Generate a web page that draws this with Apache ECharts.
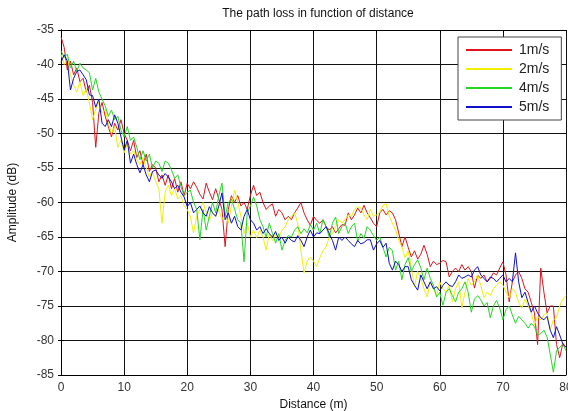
<!DOCTYPE html>
<html>
<head>
<meta charset="utf-8">
<script src="https://cdn.jsdelivr.net/npm/echarts@6/dist/echarts.min.js"></script>
<style>
html,body{margin:0;padding:0;background:#fff;}
#chart{width:568px;height:411px;}
</style>
</head>
<body>
<div id="chart"></div>
<script>
const titleText = "The path loss in function of distance";
const xName = "Distance (m)";
const yName = "Amplitude (dB)";
const seriesNames = ["1m/s", "2m/s", "4m/s", "5m/s"];
const distStart = 0, distStep = 0.5;   // sample spacing of the measurements (m)
const xTicks = [0, 10, 20, 30, 40, 50, 60, 70, 80];
const yTicks = [-85, -80, -75, -70, -65, -60, -55, -50, -45, -40, -35];

const speed1 = [
-36.0,-37.5,-40.8,-39.5,-41.5,-40.5,-42.5,-42.0,-44.0,-43.0,
-45.5,-52.0,-47.0,-45.5,-47.5,-49.0,-50.5,-48.5,-49.5,-48.0,
-50.0,-51.0,-52.5,-51.0,-53.5,-52.5,-54.5,-53.0,-55.5,-54.5,
-55.0,-57.0,-56.0,-57.5,-56.0,-58.0,-56.5,-58.5,-57.0,-59.0,
-57.2,-58.0,-57.0,-57.8,-58.8,-59.5,-57.2,-58.5,-59.6,-58.0,
-59.5,-61.0,-66.4,-61.0,-59.0,-60.0,-59.0,-60.5,-60.0,-61.0,
-59.0,-57.5,-59.0,-58.5,-60.0,-61.0,-60.5,-60.2,-62.0,-61.0,
-61.5,-62.5,-62.0,-62.5,-61.5,-60.8,-60.0,-61.5,-62.5,-63.3,
-62.0,-62.6,-63.0,-62.5,-63.5,-64.0,-63.5,-64.4,-63.8,-63.2,
-63.3,-61.5,-62.5,-61.8,-60.8,-61.5,-60.4,-61.5,-62.2,-63.0,
-63.5,-61.5,-61.0,-61.8,-61.2,-61.5,-62.5,-64.4,-66.4,-65.0,
-66.5,-67.9,-67.0,-68.2,-67.5,-66.2,-67.5,-69.3,-68.5,-69.0,
-68.8,-68.4,-68.6,-70.8,-70.0,-69.5,-70.0,-69.0,-69.8,-69.3,
-70.0,-72.4,-70.5,-71.0,-70.5,-71.5,-71.0,-70.2,-70.5,-69.5,
-68.6,-70.5,-74.4,-71.5,-70.5,-70.0,-71.0,-72.5,-73.0,-74.5,
-76.0,-80.6,-69.5,-73.0,-76.0,-75.0,-75.0,-80.6,-82.5,-80.4,
-81.0];

const speed2 = [
-38.5,-40.0,-39.0,-41.5,-43.0,-44.0,-42.5,-44.5,-43.5,-45.6,
-48.0,-46.5,-45.5,-47.0,-46.5,-48.5,-50.0,-49.0,-52.0,-51.0,
-52.8,-51.5,-53.0,-52.5,-53.8,-54.5,-53.5,-55.0,-56.3,-55.5,
-57.0,-58.0,-63.0,-58.5,-57.5,-59.0,-58.0,-59.5,-59.0,-60.5,
-61.0,-62.1,-64.4,-62.0,-61.0,-60.0,-61.5,-62.5,-61.5,-62.0,
-61.0,-62.5,-61.5,-63.0,-60.5,-58.2,-60.0,-62.0,-64.5,-63.0,
-65.0,-64.0,-65.1,-64.0,-65.0,-66.9,-64.5,-65.5,-64.5,-65.0,
-64.0,-63.5,-62.5,-62.0,-61.5,-63.0,-66.9,-70.2,-68.5,-67.9,
-68.5,-69.3,-68.0,-67.0,-66.4,-65.0,-64.5,-63.5,-62.5,-63.0,
-62.5,-61.8,-62.0,-61.0,-60.6,-60.8,-61.8,-62.5,-61.0,-62.0,
-61.8,-61.4,-60.4,-60.2,-62.0,-63.0,-64.0,-65.5,-66.4,-68.0,
-67.0,-69.5,-72.2,-70.0,-71.0,-72.5,-73.7,-71.5,-72.5,-73.5,
-71.5,-72.5,-73.0,-72.0,-74.4,-72.5,-71.5,-75.3,-73.0,-71.0,
-72.0,-71.5,-70.5,-72.0,-73.8,-73.0,-73.5,-72.5,-72.0,-71.5,
-72.0,-73.0,-73.8,-72.5,-73.0,-74.5,-75.3,-74.0,-75.0,-76.0,
-77.8,-76.5,-77.0,-76.3,-76.0,-78.5,-77.0,-76.7,-75.0,-74.0,
-73.5];

const speed4 = [
-38.0,-39.0,-38.5,-40.5,-39.5,-41.0,-39.8,-40.5,-40.8,-41.2,
-43.7,-42.0,-44.0,-45.0,-46.0,-47.5,-46.6,-48.0,-47.5,-49.5,
-50.5,-49.0,-51.0,-50.5,-52.0,-53.8,-52.5,-54.0,-53.0,-55.0,
-54.0,-54.3,-55.5,-54.0,-54.3,-55.3,-56.5,-56.0,-57.7,-59.0,
-58.5,-58.2,-60.0,-61.0,-65.4,-61.0,-64.0,-62.0,-60.0,-61.5,
-59.0,-57.2,-62.0,-60.0,-59.5,-61.0,-62.5,-63.0,-68.6,-61.5,
-60.5,-59.2,-60.5,-62.5,-63.5,-65.0,-63.0,-64.5,-65.9,-64.5,
-66.9,-65.5,-64.8,-65.0,-64.0,-63.5,-64.5,-63.8,-64.4,-63.2,
-64.0,-63.0,-64.5,-62.5,-63.5,-65.0,-63.0,-62.1,-64.5,-63.5,
-63.0,-64.5,-63.5,-63.0,-65.7,-64.5,-65.2,-63.5,-64.0,-64.8,
-65.5,-65.0,-66.5,-67.9,-66.5,-67.0,-69.8,-68.5,-71.2,-69.0,
-68.0,-70.0,-69.0,-68.3,-69.5,-71.2,-69.5,-71.0,-72.0,-73.7,
-73.0,-74.9,-73.0,-72.5,-73.5,-74.4,-73.0,-72.5,-71.5,-73.0,
-75.9,-74.0,-73.5,-74.1,-75.0,-74.5,-76.7,-75.0,-74.2,-75.3,
-77.0,-75.5,-75.0,-76.3,-77.5,-76.5,-77.0,-77.5,-78.2,-77.5,
-78.0,-79.2,-79.0,-78.5,-79.5,-82.0,-84.6,-81.5,-81.0,-80.5,
-81.5];

const speed5 = [
-39.7,-38.6,-39.5,-43.7,-42.0,-41.0,-40.8,-41.5,-42.2,-44.4,
-44.5,-46.2,-45.0,-48.5,-49.0,-48.0,-49.0,-47.3,-48.5,-50.5,
-52.4,-51.0,-54.3,-53.0,-54.5,-55.7,-54.5,-56.0,-57.0,-55.5,
-55.3,-56.0,-56.5,-55.8,-56.3,-57.0,-58.0,-57.5,-58.5,-59.2,
-60.6,-60.0,-61.5,-61.0,-60.5,-61.5,-62.0,-60.6,-61.5,-62.0,
-60.5,-58.6,-62.5,-61.5,-63.0,-62.0,-63.5,-64.0,-62.0,-61.0,
-62.5,-63.0,-64.0,-63.5,-64.5,-63.8,-64.5,-65.0,-64.2,-65.5,
-65.0,-65.9,-65.0,-65.5,-65.7,-64.8,-65.5,-66.4,-65.0,-64.0,
-65.0,-64.4,-64.5,-64.0,-63.5,-64.5,-65.5,-66.9,-65.0,-65.5,
-65.0,-65.5,-66.0,-66.4,-65.5,-66.0,-65.8,-65.4,-65.4,-66.9,
-66.0,-65.5,-66.5,-65.9,-68.8,-69.8,-68.5,-69.0,-70.0,-69.3,
-69.3,-71.2,-72.0,-72.7,-70.5,-71.5,-72.5,-71.5,-72.5,-72.2,
-72.8,-72.0,-71.5,-72.0,-72.2,-71.5,-70.5,-71.0,-70.8,-70.5,
-70.8,-69.8,-69.3,-70.5,-71.0,-71.5,-70.8,-71.0,-71.5,-71.0,
-70.5,-71.5,-71.0,-71.5,-67.3,-71.5,-73.8,-73.0,-74.5,-75.9,
-75.0,-76.0,-76.7,-77.0,-76.5,-78.5,-79.6,-78.0,-79.2,-80.5,
-81.0];

const seriesValues = [speed1, speed2, speed4, speed5];
const colors = ["#e0141c", "#f0f000", "#22d822", "#1010c8"];

function toPairs(arr) {
  return arr.map((v, i) => [distStart + i * distStep, v]);
}

const FONT = "Liberation Sans";
const chart = echarts.init(document.getElementById('chart'), null, {renderer: 'canvas'});

const baseAxis = {
  axisLine: {show: true, lineStyle: {color: '#000', width: 1}},
  axisTick: {show: true, inside: true, length: 3, lineStyle: {color: '#000'}},
  splitLine: {show: false}
};

const option = {
  animation: false,
  backgroundColor: '#fff',
  title: {
    text: titleText,
    left: 313, top: 3, textAlign: 'center',
    textStyle: {fontFamily: FONT, fontSize: 12, fontWeight: 'normal', color: '#111'}
  },
  legend: {
    orient: 'vertical',
    left: 458, top: 37,
    padding: [5, 12, 5, 8],
    icon: 'rect',
    itemWidth: 46, itemHeight: 2, itemGap: 3,
    backgroundColor: '#fff',
    borderColor: '#444', borderWidth: 1, borderRadius: 0,
    textStyle: {fontFamily: FONT, fontSize: 14, color: '#222', padding: [0, 0, 0, 2], lineHeight: 16},
    data: seriesNames
  },
  grid: {left: 61, right: 2, top: 30, bottom: 36, show: false, containLabel: false, outerBoundsMode: 'none'},
  xAxis: [
    Object.assign({}, baseAxis, {
      type: 'value', min: 0, max: 80, interval: 10, position: 'bottom',
      name: xName, nameLocation: 'middle', nameGap: 21,
      nameTextStyle: {fontFamily: FONT, fontSize: 12, color: '#111'},
      axisLabel: {fontFamily: FONT, fontSize: 12, color: '#333', margin: 7},
      splitLine: {show: true, lineStyle: {color: '#111', width: 1}}
    }),
    Object.assign({}, baseAxis, {
      type: 'value', min: 0, max: 80, interval: 10, position: 'top',
      axisLabel: {show: false}
    })
  ],
  yAxis: [
    Object.assign({}, baseAxis, {
      type: 'value', min: -85, max: -35, interval: 5, position: 'left',
      name: yName, nameLocation: 'middle', nameGap: 42, nameRotate: 90,
      nameTextStyle: {fontFamily: FONT, fontSize: 12, color: '#111'},
      axisLabel: {fontFamily: FONT, fontSize: 12, color: '#333', margin: 7},
      splitLine: {show: true, lineStyle: {color: '#111', width: 1}}
    }),
    Object.assign({}, baseAxis, {
      type: 'value', min: -85, max: -35, interval: 5, position: 'right',
      axisLabel: {show: false}
    })
  ],
  series: seriesNames.map((name, k) => ({
    name: name,
    type: 'line',
    xAxisIndex: 0, yAxisIndex: 0,
    data: toPairs(seriesValues[k]),
    showSymbol: false,
    symbol: 'none',
    color: colors[k],
    lineStyle: {color: colors[k], width: 1},
    z: 3 + k
  }))
};
chart.setOption(option);
</script>
</body>
</html>
